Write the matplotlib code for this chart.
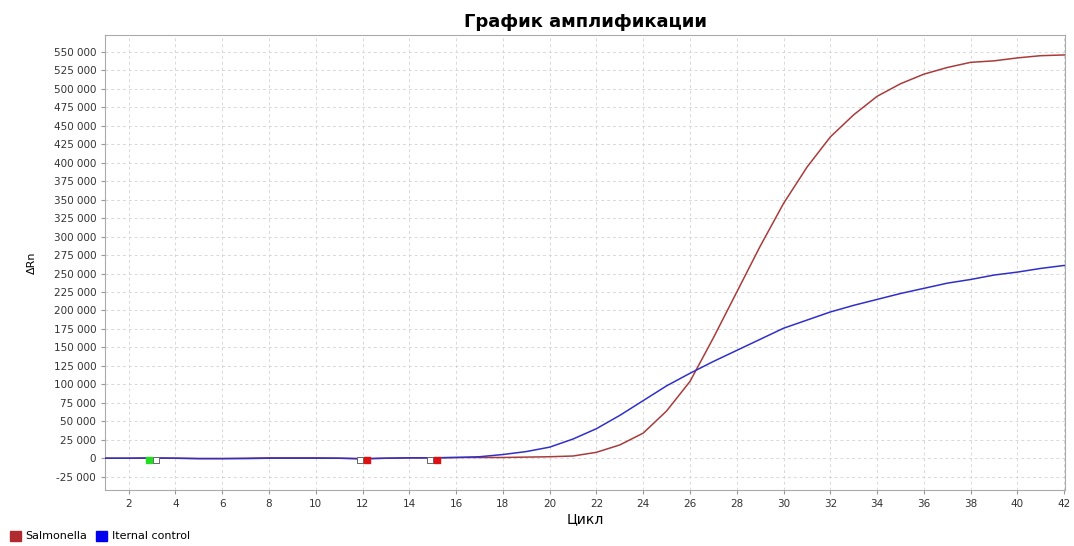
import numpy as np
import matplotlib.pyplot as plt
from matplotlib.ticker import FuncFormatter, MultipleLocator
from matplotlib.patches import Patch

# cycles and fluorescence
cycles = list(range(1, 43))
salmonella = [0, 0, 0, 0, -500, -500, 0, 500, 500, 500, 0, -1000, 0, 500, 500,
              1000, 1000, 1000, 1500, 2000, 3000, 8000, 18000, 34000, 64000,
              104000, 163000, 225000, 287000, 345000, 394000, 435000, 465000,
              490000, 507000, 520000, 529000, 536000, 538000, 542000, 545000,
              546000]
internal = [0, 0, 500, 0, -500, -500, -500, 0, 0, 0, 0, -500, 0, 500, 500,
            1000, 2000, 5000, 9000, 15000, 26000, 40000, 58000, 78000, 98000,
            115000, 131000, 146000, 161000, 176000, 187000, 198000, 207000,
            215000, 223000, 230000, 237000, 242000, 248000, 252000, 257000,
            261000]

# threshold markers: (colored box x, white box x)
mark_x = [2.85, 12.2, 15.2]
white_x = [3.15, 11.9, 14.9]
mark_colors = ["#22dd22", "#dd1111", "#dd1111"]

plt.rcParams['font.family'] = ['DejaVu Sans']
fig = plt.figure(figsize=(10.74, 5.46), dpi=100)
ax = fig.add_axes([0.098, 0.1026, 0.894, 0.8333])

ax.plot(cycles, salmonella, color="#a83c3c", lw=1.1, zorder=3)
ax.plot(cycles, internal, color="#3030c8", lw=1.1, zorder=3)

# little boxes on the baseline
for mx, wx, mc in zip(mark_x, white_x, mark_colors):
    ax.scatter([wx], [-2000], marker="s", s=22, facecolor="white",
               edgecolor="#666666", linewidth=0.7, zorder=4)
    ax.scatter([mx], [-2000], marker="s", s=18, color=mc, zorder=5)

ax.set_xlim(1, 42.05)
ax.set_ylim(-43000, 573000)
ax.xaxis.set_major_locator(MultipleLocator(2))
ax.yaxis.set_major_locator(MultipleLocator(25000))
ax.yaxis.set_major_formatter(FuncFormatter(lambda v, p: f"{int(v):,}".replace(",", " ")))
ax.tick_params(axis="both", labelsize=7.5, colors="#333333", length=3, color="#999999")
ax.grid(True, linestyle=(0, (3, 3)), color="#d8d8d8", linewidth=0.7)
for s in ax.spines.values():
    s.set_color("#aaaaaa")

ax.set_xlabel("Цикл", fontsize=10, labelpad=2)
ax.set_ylabel("ΔRn", fontsize=8, labelpad=12)
ax.set_title("График амплификации", fontsize=13, fontweight="bold", pad=6)

handles = [Patch(color="#b02a30", label="Salmonella"),
           Patch(color="#0000ee", label="Iternal control")]
fig.legend(handles=handles, loc="lower left", bbox_to_anchor=(0.0, -0.01), ncol=2,
           frameon=False, fontsize=8, handlelength=1.0, handleheight=1.0,
           handletextpad=0.4, columnspacing=0.8)

fig.savefig("out.png", dpi=100)
